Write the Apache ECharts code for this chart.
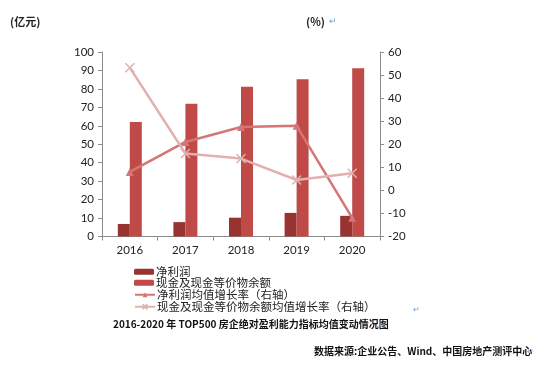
<!DOCTYPE html>
<html><head><meta charset="utf-8">
<script src="https://cdn.jsdelivr.net/npm/echarts@6/dist/echarts.min.js"></script>
<style>html,body{margin:0;padding:0;background:#fff}#c{width:550px;height:366px}</style>
</head><body><div id="c"></div>
<script>
var categories = ['2016', '2017', '2018', '2019', '2020'];
var netProfit = [6.8, 7.8, 10.2, 12.8, 11.2];
var cashBalance = [62.1, 72.0, 81.2, 85.2, 91.2];
var netProfitGrowth = [8.0, 21.0, 27.5, 28.0, -11.9];
var cashGrowth = [53.2, 16.0, 13.8, 4.5, 7.4];
var seriesNames = ['净利润', '现金及现金等价物余额', '净利润均值增长率（右轴）', '现金及现金等价物余额均值增长率（右轴）'];
var leftTicks = {min: 0, max: 100, interval: 10};
var rightTicks = {min: -20, max: 60, interval: 10};

var font = 'Lato, "Noto Sans CJK SC", sans-serif';
var cjk = '"Noto Sans CJK SC", sans-serif';
var chart = echarts.init(document.getElementById('c'));
var axisLine = {show: true, lineStyle: {color: '#8c8c8c', width: 1}};
var xPath = 'path://M0,0L10,10M10,0L0,10';
var legendTops = [266, 277, 289, 301];
var legends = seriesNames.map(function (n, i) {
  return {
    orient: 'vertical', left: 134, top: legendTops[i], itemWidth: 20, itemHeight: 6, padding: 0,
    textStyle: {fontFamily: cjk, fontSize: 11.5, color: '#222', padding: [0,0,0,-3]},
    data: [n]
  };
});
chart.setOption({
  animation: false,
  grid: {left: 102, right: 170, top: 52, bottom: 129.5, containLabel: false},
  legend: legends,
  xAxis: {
    type: 'category', data: categories,
    axisLine: axisLine,
    axisTick: {show: true, length: 4, lineStyle: {color: '#8c8c8c'}},
    axisLabel: {fontFamily: font, fontSize: 11.5, color: '#222', margin: 8}
  },
  yAxis: [
    {type: 'value', min: leftTicks.min, max: leftTicks.max, interval: leftTicks.interval,
     axisLine: axisLine, axisTick: {show: true, length: 4, lineStyle: {color: '#8c8c8c'}},
     splitLine: {show: false},
     axisLabel: {fontFamily: font, fontSize: 11.5, color: '#222', margin: 8}},
    {type: 'value', min: rightTicks.min, max: rightTicks.max, interval: rightTicks.interval,
     position: 'right',
     axisLine: axisLine, axisTick: {show: true, length: 4, lineStyle: {color: '#8c8c8c'}},
     splitLine: {show: false},
     axisLabel: {fontFamily: font, fontSize: 11.5, color: '#222', margin: 8}}
  ],
  series: [
    {name: seriesNames[0], type: 'bar', data: netProfit, barWidth: 12, barGap: '0%',
     itemStyle: {color: '#973432'}},
    {name: seriesNames[1], type: 'bar', data: cashBalance, barWidth: 12,
     itemStyle: {color: '#bf4a47'}},
    {name: seriesNames[2], type: 'line', yAxisIndex: 1, data: netProfitGrowth,
     lineStyle: {color: '#d57575', width: 2.5}, symbol: 'triangle', symbolSize: 8,
     itemStyle: {color: '#d57575'}, z: 5},
    {name: seriesNames[3], type: 'line', yAxisIndex: 1, data: cashGrowth,
     lineStyle: {color: '#e2b0ae', width: 2.5}, symbol: xPath, symbolSize: 9,
     itemStyle: {color: 'rgba(0,0,0,0)', borderColor: '#e2b0ae', borderWidth: 1.5}, z: 6}
  ],
  graphic: [
    {type: 'text', left: 10, top: 16, style: {text: '(亿元)', font: 'bold 11px ' + cjk, fill: '#222'}},
    {type: 'text', left: 306, top: 16, style: {text: '(%)', font: 'bold 11px ' + cjk, fill: '#222'}},
    {type: 'text', left: 329, top: 16, style: {text: '↵', font: '9px ' + cjk, fill: '#6aa0d8'}},
    {type: 'text', left: 113, top: 319, style: {text: '2016-2020 年 TOP500 房企绝对盈利能力指标均值变动情况图', font: 'bold 10px ' + cjk, fill: '#111'}},
    {type: 'text', left: 379, top: 320, style: {text: '↵', font: '8px ' + cjk, fill: '#6aa0d8'}},
    {type: 'text', left: 314, top: 346, style: {text: '数据来源:企业公告、Wind、中国房地产测评中心', font: 'bold 10px ' + cjk, fill: '#111'}},
    {type: 'text', left: 527, top: 347, style: {text: '↵', font: '8px ' + cjk, fill: '#6aa0d8'}},
    {type: 'text', left: 413, top: 305, style: {text: '↵', font: '8px ' + cjk, fill: '#6aa0d8'}}
  ]
});
</script></body></html>
